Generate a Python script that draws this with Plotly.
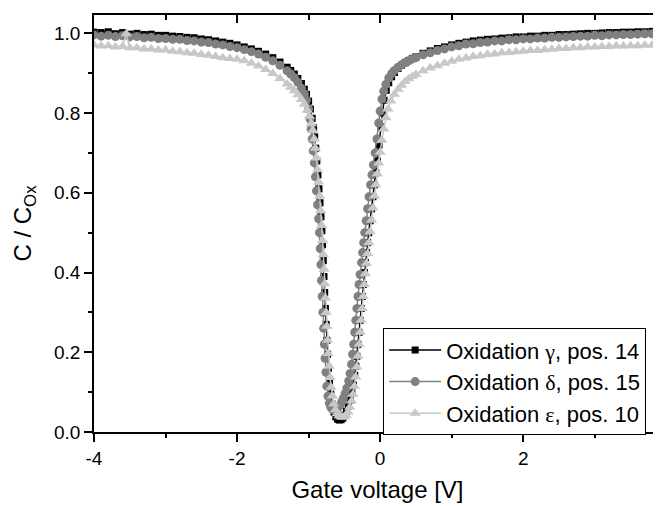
import plotly.graph_objects as go

# ---------------- data ----------------
# Oxidation gamma, pos. 14 (black squares)
v_gamma = [-4.0, -3.9, -3.8, -3.7, -3.6, -3.5, -3.4, -3.3, -3.2, -3.1, -3.0, -2.9, -2.8, -2.7,
           -2.6, -2.5, -2.4, -2.3, -2.2, -2.1, -2.0, -1.9, -1.8, -1.7, -1.6, -1.5, -1.4, -1.3,
           -1.25, -1.20, -1.15, -1.10, -1.06, -1.03, -1.00, -0.975, -0.95, -0.93, -0.915, -0.90,
           -0.885, -0.87, -0.855, -0.84, -0.827, -0.815, -0.805, -0.795, -0.785, -0.775, -0.765,
           -0.755, -0.745, -0.735, -0.722, -0.708, -0.69, -0.67, -0.645, -0.62, -0.595, -0.57,
           -0.545, -0.52, -0.495, -0.47, -0.445, -0.42, -0.395, -0.375, -0.355, -0.34, -0.325,
           -0.31, -0.295, -0.28, -0.265, -0.25, -0.235, -0.22, -0.205, -0.19, -0.175, -0.16,
           -0.14, -0.12, -0.10, -0.08, -0.06, -0.04, -0.015, 0.01, 0.03, 0.055, 0.085, 0.12,
           0.16, 0.20, 0.25, 0.30, 0.35, 0.40, 0.45, 0.50,
           0.6, 0.7, 0.8, 0.9, 1.0, 1.1, 1.2, 1.3, 1.4, 1.5, 1.6, 1.7, 1.8, 1.9, 2.0, 2.1, 2.2,
           2.3, 2.4, 2.5, 2.6, 2.7, 2.8, 2.9, 3.0, 3.1, 3.2, 3.3, 3.4, 3.5, 3.6, 3.7, 3.8, 3.9, 4.0]
c_gamma = [1.003, 1.002, 1.004, 0.999, 1.002, 0.998, 1.000, 0.997, 0.998, 0.995, 0.995, 0.993,
           0.992, 0.990, 0.989, 0.986, 0.984, 0.981, 0.978, 0.975, 0.971, 0.966, 0.961, 0.955,
           0.948, 0.939, 0.928, 0.915,
           0.907, 0.898, 0.887, 0.874, 0.860, 0.847, 0.830, 0.810, 0.787, 0.763, 0.740, 0.712,
           0.680, 0.645, 0.610, 0.575, 0.540, 0.505, 0.470, 0.430, 0.390, 0.350, 0.310,
           0.270, 0.230, 0.195, 0.160, 0.125, 0.095, 0.070, 0.050, 0.038, 0.032, 0.030,
           0.031, 0.035, 0.042, 0.052, 0.065, 0.080, 0.098, 0.118, 0.142, 0.165, 0.190,
           0.220, 0.250, 0.280, 0.310, 0.340, 0.370, 0.400, 0.425, 0.450, 0.475, 0.500,
           0.530, 0.560, 0.590, 0.620, 0.650, 0.680, 0.720, 0.765, 0.800, 0.832, 0.857, 0.876,
           0.891, 0.902, 0.912, 0.920, 0.926, 0.932, 0.937, 0.941,
           0.950, 0.956, 0.962, 0.966, 0.971, 0.975, 0.978, 0.981, 0.983, 0.985, 0.986, 0.988,
           0.989, 0.991, 0.991, 0.993, 0.993, 0.995, 0.995, 0.997, 0.997, 0.998, 0.999, 1.000,
           1.000, 1.001, 1.002, 1.002, 1.003, 1.003, 1.004, 1.004, 1.005, 1.005, 1.006]

# Oxidation delta, pos. 15 (dark grey circles)
v_delta = [-4.0, -3.9, -3.8, -3.7, -3.6, -3.5, -3.4, -3.3, -3.2, -3.1, -3.0, -2.9, -2.8, -2.7,
           -2.6, -2.5, -2.4, -2.3, -2.2, -2.1, -2.0, -1.9, -1.8, -1.7, -1.6, -1.5, -1.4, -1.3,
           -1.25, -1.20, -1.15, -1.10, -1.06, -1.03, -1.00, -0.98, -0.965, -0.95, -0.935, -0.92,
           -0.905, -0.89, -0.875, -0.86, -0.848, -0.838, -0.828, -0.819, -0.81, -0.80, -0.79,
           -0.78, -0.77, -0.758, -0.745, -0.73, -0.71, -0.69, -0.665, -0.64, -0.615, -0.59,
           -0.565, -0.54, -0.515, -0.49, -0.465, -0.44, -0.42, -0.40, -0.385, -0.37, -0.355,
           -0.34, -0.325, -0.31, -0.295, -0.28, -0.26, -0.245, -0.23, -0.215, -0.195, -0.175,
           -0.155, -0.135, -0.115, -0.095, -0.07, -0.045, -0.02, 0.00, 0.025, 0.05, 0.08, 0.12,
           0.16, 0.20, 0.25, 0.30, 0.35, 0.40, 0.45, 0.50,
           0.6, 0.7, 0.8, 0.9, 1.0, 1.1, 1.2, 1.3, 1.4, 1.5, 1.6, 1.7, 1.8, 1.9, 2.0, 2.1, 2.2,
           2.3, 2.4, 2.5, 2.6, 2.7, 2.8, 2.9, 3.0, 3.1, 3.2, 3.3, 3.4, 3.5, 3.6, 3.7, 3.8, 3.9, 4.0]
c_delta = [0.996, 0.993, 0.995, 0.992, 0.994, 0.991, 0.992, 0.989, 0.990, 0.987, 0.987, 0.985,
           0.985, 0.982, 0.981, 0.978, 0.977, 0.973, 0.971, 0.967, 0.964, 0.959, 0.954, 0.948,
           0.940, 0.931, 0.920, 0.906,
           0.898, 0.889, 0.877, 0.862, 0.848, 0.832, 0.810, 0.785, 0.760, 0.735, 0.705, 0.675,
           0.640, 0.605, 0.570, 0.535, 0.500, 0.460, 0.420, 0.380, 0.340, 0.300, 0.260,
           0.220, 0.185, 0.150, 0.115, 0.090, 0.072, 0.062, 0.057, 0.055, 0.056, 0.060,
           0.066, 0.074, 0.084, 0.096, 0.110, 0.128, 0.147, 0.170, 0.195, 0.220, 0.250,
           0.280, 0.310, 0.340, 0.370, 0.395, 0.425, 0.450, 0.475, 0.500, 0.530, 0.560,
           0.590, 0.620, 0.645, 0.670, 0.700, 0.735, 0.775, 0.805, 0.835, 0.855, 0.872, 0.888,
           0.899, 0.907, 0.915, 0.921, 0.927, 0.931, 0.936, 0.939,
           0.946, 0.951, 0.957, 0.961, 0.966, 0.969, 0.973, 0.974, 0.977, 0.978, 0.981, 0.981,
           0.984, 0.984, 0.986, 0.986, 0.988, 0.988, 0.990, 0.990, 0.991, 0.992, 0.993, 0.993,
           0.995, 0.994, 0.996, 0.996, 0.997, 0.997, 0.998, 0.999, 0.999, 1.000, 1.000]

# Oxidation epsilon, pos. 10 (light grey triangles)
v_eps = [-4.0, -3.9, -3.8, -3.7, -3.6, -3.55, -3.5, -3.4, -3.3, -3.2, -3.1, -3.0, -2.9, -2.8,
         -2.7, -2.6, -2.5, -2.4, -2.3, -2.2, -2.1, -2.0, -1.9, -1.8, -1.7, -1.6, -1.5, -1.4, -1.3,
         -1.25, -1.20, -1.15, -1.10, -1.06, -1.02, -0.99, -0.96, -0.94, -0.92, -0.905, -0.89,
         -0.875, -0.86, -0.845, -0.83, -0.817, -0.805, -0.795, -0.785, -0.775, -0.765, -0.755,
         -0.745, -0.735, -0.725, -0.713, -0.70, -0.685, -0.668, -0.648, -0.625, -0.60, -0.575,
         -0.55, -0.525, -0.50, -0.475, -0.45, -0.425, -0.40, -0.38, -0.36, -0.342, -0.326,
         -0.31, -0.295, -0.28, -0.265, -0.25, -0.235, -0.22, -0.205, -0.19, -0.175, -0.158,
         -0.14, -0.12, -0.10, -0.08, -0.06, -0.04, -0.02, 0.00, 0.025, 0.05, 0.08, 0.11, 0.15,
         0.20, 0.25, 0.30, 0.35, 0.40, 0.45, 0.50,
         0.6, 0.7, 0.8, 0.9, 1.0, 1.1, 1.2, 1.3, 1.4, 1.5, 1.6, 1.7, 1.8, 1.9, 2.0, 2.1, 2.2,
         2.3, 2.4, 2.5, 2.6, 2.7, 2.8, 2.9, 3.0, 3.1, 3.2, 3.3, 3.4, 3.5, 3.6, 3.7, 3.8, 3.9, 4.0]
c_eps = [0.971, 0.968, 0.969, 0.966, 0.967, 0.999, 0.964, 0.964, 0.961, 0.961, 0.958, 0.958,
         0.955, 0.954, 0.951, 0.950, 0.947, 0.945, 0.942, 0.939, 0.937, 0.935, 0.931, 0.925,
         0.918, 0.909, 0.899, 0.887, 0.873,
         0.865, 0.856, 0.846, 0.834, 0.822, 0.807, 0.792, 0.773, 0.756, 0.735, 0.712, 0.687,
         0.658, 0.627, 0.592, 0.555, 0.518, 0.480, 0.445, 0.408, 0.372, 0.336, 0.300,
         0.265, 0.230, 0.197, 0.165, 0.137, 0.112, 0.090, 0.070, 0.056, 0.046, 0.041,
         0.038, 0.037, 0.038, 0.042, 0.050, 0.062, 0.078, 0.095, 0.115, 0.138, 0.163,
         0.190, 0.220, 0.250, 0.280, 0.310, 0.340, 0.370, 0.397, 0.423, 0.448, 0.475,
         0.502, 0.532, 0.562, 0.592, 0.620, 0.648, 0.675, 0.702, 0.732, 0.760, 0.788, 0.810,
         0.830, 0.847, 0.860, 0.870, 0.879, 0.886, 0.892, 0.897,
         0.906, 0.913, 0.919, 0.925, 0.930, 0.935, 0.938, 0.942, 0.944, 0.947, 0.948, 0.951,
         0.952, 0.954, 0.955, 0.957, 0.957, 0.959, 0.960, 0.962, 0.962, 0.964, 0.964, 0.966,
         0.966, 0.967, 0.967, 0.968, 0.968, 0.969, 0.969, 0.970, 0.970, 0.971, 0.971]

SERIF = "font-family:'Liberation Serif', 'Times New Roman', serif"
series_names = [f"Oxidation <span style=\"{SERIF}\">\u03b3</span>, pos. 14",
                f"Oxidation <span style=\"{SERIF}\">\u03b4</span>, pos. 15",
                f"Oxidation <span style=\"{SERIF}\">\u03b5</span>, pos. 10"]
x_tick_vals = [-4, -2, 0, 2, 4]
y_tick_vals = [0.0, 0.2, 0.4, 0.6, 0.8, 1.0]

FONT = "Arial, 'Liberation Sans', sans-serif"

fig = go.Figure()
styles = [
    (v_gamma, c_gamma, "#000000", "square", 7),
    (v_delta, c_delta, "#808080", "circle", 9),
    (v_eps, c_eps, "#c8c8c8", "triangle-up", 10),
]
for (vx, cy, col, sym, sz), name in zip(styles, series_names):
    fig.add_trace(go.Scatter(
        x=vx, y=cy, mode="lines+markers", name=name,
        line=dict(color=col, width=1.5),
        marker=dict(symbol=sym, size=sz, color=col, line=dict(width=0)),
    ))

# helper trace for the top / right mirrored axes (no data)
fig.add_trace(go.Scatter(x=[None], y=[None], xaxis="x2", yaxis="y2", showlegend=False,
                         hoverinfo="skip", mode="markers"))

x_range = [-4, 3.926]
y_range = [0, 1.046]

# the page body adds an 8 px margin, so the figure is 8 px smaller and shifted
fig.update_layout(
    width=653, height=498,
    margin=dict(l=86, r=0, t=7, b=74, autoexpand=False),
    paper_bgcolor="white", plot_bgcolor="white",
    font=dict(family=FONT, size=19, color="black"),
    showlegend=True,
    legend=dict(
        x=0.51, y=0.249, xanchor="left", yanchor="top",
        bgcolor="white", bordercolor="black", borderwidth=1,
        font=dict(family=FONT, size=22, color="black"),
        tracegroupgap=0, itemwidth=52,
    ),
    xaxis=dict(
        range=x_range, tickvals=x_tick_vals, ticktext=[str(v) for v in x_tick_vals],
        ticks="outside", ticklen=8, tickwidth=1.5, tickcolor="black",
        minor=dict(dtick=1, tick0=-4, ticks="outside", ticklen=4, tickwidth=1.5, tickcolor="black"),
        showline=True, linecolor="black", linewidth=1.5, mirror=False,
        showgrid=False, zeroline=False, automargin=False,
        tickfont=dict(family=FONT, size=19, color="black"),
        title=dict(text="Gate voltage [V]", font=dict(family=FONT, size=24, color="black"), standoff=14),
    ),
    yaxis=dict(
        range=y_range, tickvals=y_tick_vals, tickformat=".1f",
        ticks="outside", ticklen=8, tickwidth=1.5, tickcolor="black",
        minor=dict(dtick=0.1, tick0=0, ticks="outside", ticklen=4, tickwidth=1.5, tickcolor="black"),
        showline=True, linecolor="black", linewidth=1.5, mirror=False,
        showgrid=False, zeroline=False, automargin=False,
        tickfont=dict(family=FONT, size=19, color="black"),
        title=dict(text="C / C<sub>Ox</sub>", font=dict(family=FONT, size=24, color="black"), standoff=16),
    ),
    xaxis2=dict(
        overlaying="x", side="top", anchor="y", range=x_range, tickvals=x_tick_vals,
        ticks="inside", ticklen=8, tickwidth=1.5, tickcolor="black",
        minor=dict(dtick=1, tick0=-4, ticks="inside", ticklen=5, tickwidth=1.5, tickcolor="black"),
        showticklabels=False, showline=True, linecolor="black", linewidth=1.5,
        showgrid=False, zeroline=False, automargin=False,
    ),
    yaxis2=dict(
        overlaying="y", side="right", anchor="x", range=y_range, tickvals=y_tick_vals,
        ticks="inside", ticklen=4, tickwidth=1.5, tickcolor="black",
        minor=dict(dtick=0.1, tick0=0, ticks="inside", ticklen=1, tickwidth=1.5, tickcolor="black"),
        showticklabels=False, showline=False, showgrid=False, zeroline=False, automargin=False,
    ),
)

fig.write_html("out.html")
